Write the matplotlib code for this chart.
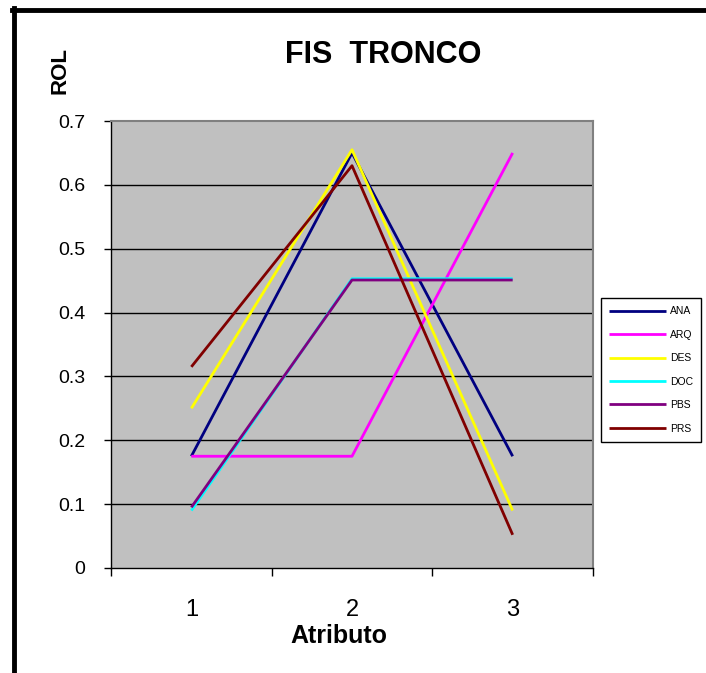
import matplotlib.pyplot as plt
from matplotlib.lines import Line2D

plt.rcParams['font.family'] = ['Liberation Sans', 'DejaVu Sans']

# valores por atributo
atributos = ['1', '2', '3']
series = ['ANA', 'ARQ', 'DES', 'DOC', 'PBS', 'PRS']
ana = [0.175, 0.65, 0.175]
arq = [0.175, 0.175, 0.65]
des = [0.25, 0.655, 0.09]
doc = [0.09, 0.453, 0.453]
pbs = [0.095, 0.451, 0.451]
prs = [0.315, 0.63, 0.052]
colores = ['#000080', '#FF00FF', '#FFFF00', '#00FFFF', '#800080', '#800000']

W, H = 706, 673
fig = plt.figure(figsize=(W / 100, H / 100), dpi=100)
ax = fig.add_axes([111 / W, 1 - 568 / H, 482 / W, 447 / H])
ax.set_facecolor('#C0C0C0')

x = [1, 2, 3]
for nombre, vals, c in zip(series, [ana, arq, des, doc, pbs, prs], colores):
    ax.plot(x, vals, color=c, lw=2, label=nombre, solid_capstyle='butt')

ax.set_xlim(0.5, 3.5)
ax.set_ylim(0, 0.7)

# ejes tipo excel
ax.set_yticks([0, 0.1, 0.2, 0.3, 0.4, 0.5, 0.6, 0.7])
ax.set_yticklabels(['0', '0.1', '0.2', '0.3', '0.4', '0.5', '0.6', '0.7'], fontsize=14)
ax.tick_params(axis='y', direction='out', length=5, width=1, pad=13.5)
ax.set_xticks([0.5, 1.5, 2.5, 3.5])
ax.set_xticklabels([])
ax.set_xticks(x, minor=True)
ax.set_xticklabels(atributos, minor=True, fontsize=17)
ax.tick_params(axis='x', which='major', direction='out', length=6, width=1)
ax.tick_params(axis='x', which='minor', length=0, pad=22)
for yv in [0.1, 0.2, 0.3, 0.4, 0.5, 0.6]:
    ax.axhline(yv, color='black', lw=1, zorder=1)
for s in ['left', 'bottom']:
    ax.spines[s].set_color('black')
    ax.spines[s].set_linewidth(1)
for s in ['top', 'right']:
    ax.spines[s].set_color('#808080')
    ax.spines[s].set_linewidth(1.5)

fig.text(383 / W, 1 - 63 / H, 'FIS  TRONCO', fontsize=22, fontweight='bold',
         ha='center', va='baseline')
fig.text(60 / W, 1 - 70 / H, 'ROL', fontsize=16, fontweight='bold',
         rotation=90, ha='center', va='center')
fig.text(339 / W, 1 - 643 / H, 'Atributo', fontsize=18, fontweight='bold',
         ha='center', va='baseline')

leg = ax.legend(loc='upper left', bbox_to_anchor=(601 / W, 1 - 298 / H),
                bbox_transform=fig.transFigure, borderaxespad=0, fontsize=7.5,
                handlelength=5.4, labelspacing=1.29, fancybox=False,
                edgecolor='black', framealpha=1, borderpad=0.8, handletextpad=0.4)
leg.get_frame().set_linewidth(1)

# marco exterior
fig.add_artist(Line2D([13.5 / W, 13.5 / W], [1 - 8 / H, -0.1], color='black', lw=3.5,
                      transform=fig.transFigure))
fig.add_artist(Line2D([12 / W, 1.1], [1 - 9.5 / H, 1 - 9.5 / H], color='black', lw=3.5,
                      transform=fig.transFigure))

fig.savefig('out.png', dpi=100)
